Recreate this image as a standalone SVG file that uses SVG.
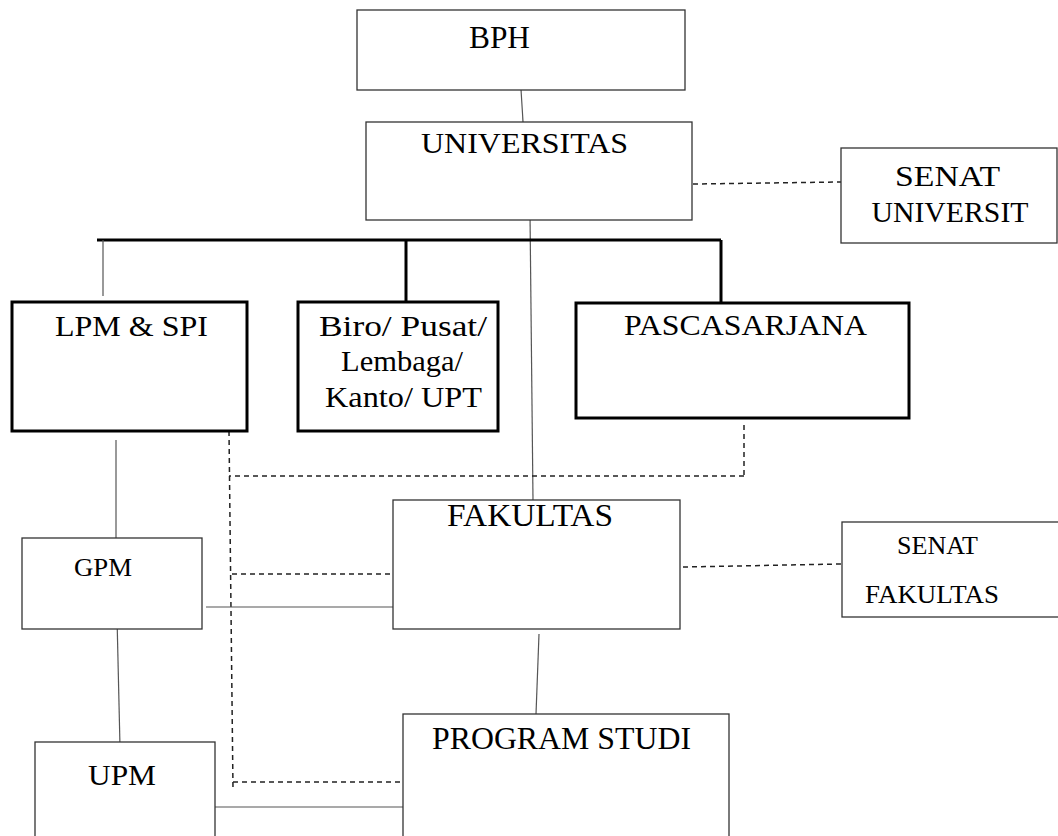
<svg xmlns="http://www.w3.org/2000/svg" width="1058" height="836" viewBox="0 0 1058 836">
<style>
.thin{fill:#fff;stroke:#333;stroke-width:1.3}
.thick{fill:#fff;stroke:#000;stroke-width:3}
.t{font-family:'Liberation Serif','Times New Roman',Tinos,'DejaVu Serif',serif;fill:#000;text-anchor:middle}
.c{fill:none;stroke:#555;stroke-width:1.2}
.cb{fill:none;stroke:#000;stroke-width:3}
.d{fill:none;stroke:#222;stroke-width:1.5;stroke-dasharray:5 4}
</style>
<rect width="1058" height="836" fill="#fff"/>
<g id="connectors">
<line class="c" x1="521" y1="89" x2="523" y2="122"/>
<line class="c" x1="530" y1="213" x2="533" y2="500"/>
<line class="d" x1="693" y1="184" x2="841" y2="182"/>
<line class="cb" x1="97" y1="240" x2="721" y2="240"/>
<line class="c" x1="103" y1="240" x2="103" y2="296"/>
<line class="cb" x1="406" y1="240" x2="406" y2="302"/>
<line class="cb" x1="721" y1="240" x2="721" y2="302"/>
<line class="c" x1="116" y1="440" x2="116" y2="538"/>
<line class="d" x1="229" y1="431" x2="233" y2="789"/>
<line class="d" x1="744" y1="425" x2="744" y2="476"/>
<line class="d" x1="744" y1="476" x2="229" y2="476"/>
<line class="d" x1="232" y1="574" x2="393" y2="574"/>
<line class="c" x1="206" y1="607" x2="397" y2="607"/>
<line class="d" x1="683" y1="567" x2="841" y2="564"/>
<line class="c" x1="117" y1="617" x2="120" y2="747"/>
<line class="c" x1="539" y1="634" x2="536" y2="714"/>
<line class="d" x1="233" y1="782" x2="403" y2="782"/>
<line class="c" x1="212" y1="807" x2="403" y2="807"/>
</g>
<g id="bph">
<rect class="thin" x="357" y="10" width="328" height="80"/>
<text class="t" x="499.5" y="48" font-size="31" textLength="61" lengthAdjust="spacingAndGlyphs">BPH</text>
</g>
<g id="universitas">
<rect class="thin" x="366" y="122" width="326" height="98"/>
<text class="t" x="524.5" y="153" font-size="30" textLength="207" lengthAdjust="spacingAndGlyphs">UNIVERSITAS</text>
</g>
<g id="senat-universitas">
<rect class="thin" x="841" y="148" width="216" height="95"/>
<text class="t" x="947.5" y="186" font-size="29" textLength="105" lengthAdjust="spacingAndGlyphs">SENAT</text>
<text class="t" x="950" y="222" font-size="29" textLength="157" lengthAdjust="spacingAndGlyphs">UNIVERSIT</text>
</g>
<g id="lpm-spi">
<rect class="thick" x="12" y="302" width="235" height="129"/>
<text class="t" x="131.5" y="336" font-size="29" textLength="153" lengthAdjust="spacingAndGlyphs">LPM &amp; SPI</text>
</g>
<g id="biro">
<rect class="thick" x="298" y="302" width="200" height="129"/>
<text class="t" x="403" y="336" font-size="29" textLength="168" lengthAdjust="spacingAndGlyphs">Biro/ Pusat/</text>
<text class="t" x="402" y="371" font-size="29" textLength="122" lengthAdjust="spacingAndGlyphs">Lembaga/</text>
<text class="t" x="403.5" y="407" font-size="29" textLength="157" lengthAdjust="spacingAndGlyphs">Kanto/ UPT</text>
</g>
<g id="pascasarjana">
<rect class="thick" x="576" y="303" width="333" height="115"/>
<text class="t" x="745.5" y="335" font-size="30" textLength="243" lengthAdjust="spacingAndGlyphs">PASCASARJANA</text>
</g>
<g id="gpm">
<rect class="thin" x="22" y="538" width="180" height="91"/>
<text class="t" x="103" y="576" font-size="26" textLength="58" lengthAdjust="spacingAndGlyphs">GPM</text>
</g>
<g id="fakultas">
<rect class="thin" x="393" y="500" width="287" height="129"/>
<text class="t" x="530" y="526" font-size="31" textLength="166" lengthAdjust="spacingAndGlyphs">FAKULTAS</text>
</g>
<g id="senat-fakultas">
<rect class="thin" x="842" y="522" width="230" height="95"/>
<text class="t" x="937.5" y="554" font-size="26" textLength="81" lengthAdjust="spacingAndGlyphs">SENAT</text>
<text class="t" x="932" y="603" font-size="26" textLength="134" lengthAdjust="spacingAndGlyphs">FAKULTAS</text>
</g>
<g id="upm">
<rect class="thin" x="35" y="742" width="180" height="110"/>
<text class="t" x="122" y="785" font-size="30" textLength="68" lengthAdjust="spacingAndGlyphs">UPM</text>
</g>
<g id="program-studi">
<rect class="thin" x="403" y="714" width="326" height="140"/>
<text class="t" x="561.5" y="749" font-size="31" textLength="259" lengthAdjust="spacingAndGlyphs">PROGRAM STUDI</text>
</g>
</svg>
